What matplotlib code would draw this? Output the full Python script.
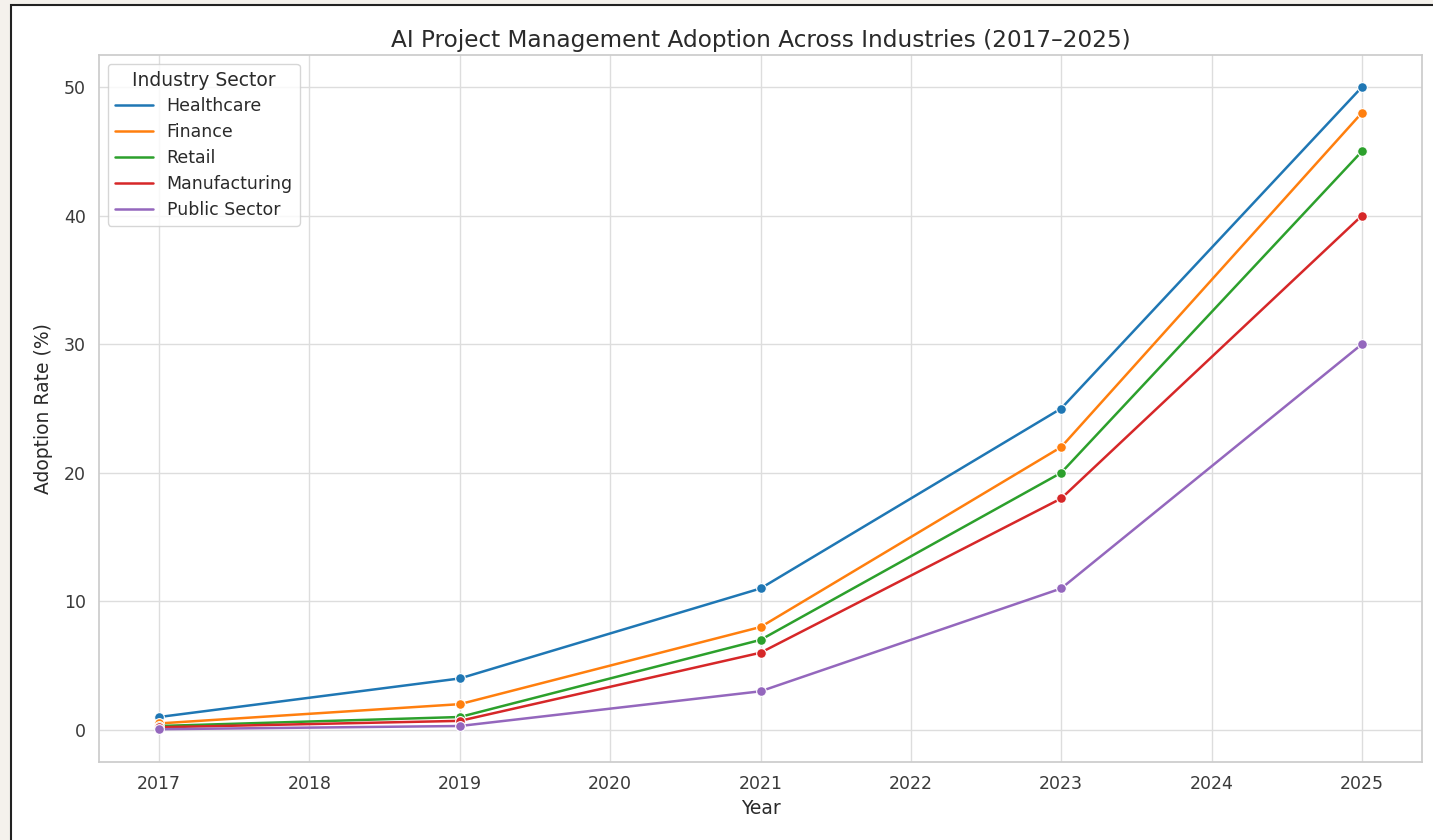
import matplotlib
matplotlib.use("Agg")
import matplotlib.pyplot as plt
import seaborn as sns
from matplotlib.patches import Rectangle
from matplotlib.lines import Line2D

years = [2017, 2019, 2021, 2023, 2025]
healthcare = [1, 4, 11, 25, 50]
finance = [0.5, 2, 8, 22, 48]
retail = [0.3, 1, 7, 20, 45]
manufacturing = [0.2, 0.7, 6, 18, 40]
public_sector = [0.05, 0.3, 3, 11, 30]
series_names = ["Healthcare", "Finance", "Retail", "Manufacturing", "Public Sector"]

sns.set_theme(style="whitegrid")
plt.rcParams['font.family'] = ['DejaVu Sans']

W, H = 1433, 840
fig = plt.figure(figsize=(W / 100, H / 100), dpi=100)
fig.patch.set_facecolor('#f4f1ec')
fig.patches.append(Rectangle((11 / W, -0.5), 1.5, 1.5 - 5 / H, transform=fig.transFigure,
                             facecolor='white', edgecolor='#222222', linewidth=1.5, zorder=-10))

ax = fig.add_axes([99 / W, 1 - 762 / H, (1422 - 99) / W, (762 - 55) / H])
ax.set_zorder(1)
ax.set_facecolor('white')
palette = sns.color_palette("tab10")
handles = []
for i, (name, vals) in enumerate(zip(series_names, [healthcare, finance, retail, manufacturing, public_sector])):
    ax.plot(years, vals, marker='o', markersize=7, linewidth=1.8, color=palette[i],
            markeredgecolor='white', markeredgewidth=0.8)
    handles.append(Line2D([], [], color=palette[i], linewidth=1.8, label=name))

ax.set_xlim(2016.6, 2025.4)
ax.set_ylim(-2.5, 52.5)
ax.set_xticks(range(2017, 2026))
ax.set_yticks([0, 10, 20, 30, 40, 50])
ax.grid(color='#dddddd', linewidth=1)
ax.tick_params(labelsize=12.5, colors='#3a3a3a')
ax.set_xlabel("Year", fontsize=13.5, color='#2a2a2a')
ax.set_ylabel("Adoption Rate (%)", fontsize=13.5, color='#2a2a2a', labelpad=8)
ax.set_title("AI Project Management Adoption Across Industries (2017\u20132025)", fontsize=16.7,
             color='#2a2a2a', pad=6)
for s in ax.spines.values():
    s.set_color('#cccccc')
leg = ax.legend(handles=handles, title="Industry Sector", loc='upper left', fontsize=12.5,
                title_fontsize=13.5, frameon=True, labelspacing=0.45, handlelength=2.2)
for t in leg.get_texts():
    t.set_color('#2a2a2a')
leg.get_title().set_color('#2a2a2a')
fig.savefig("out.png", dpi=100, facecolor=fig.get_facecolor())
